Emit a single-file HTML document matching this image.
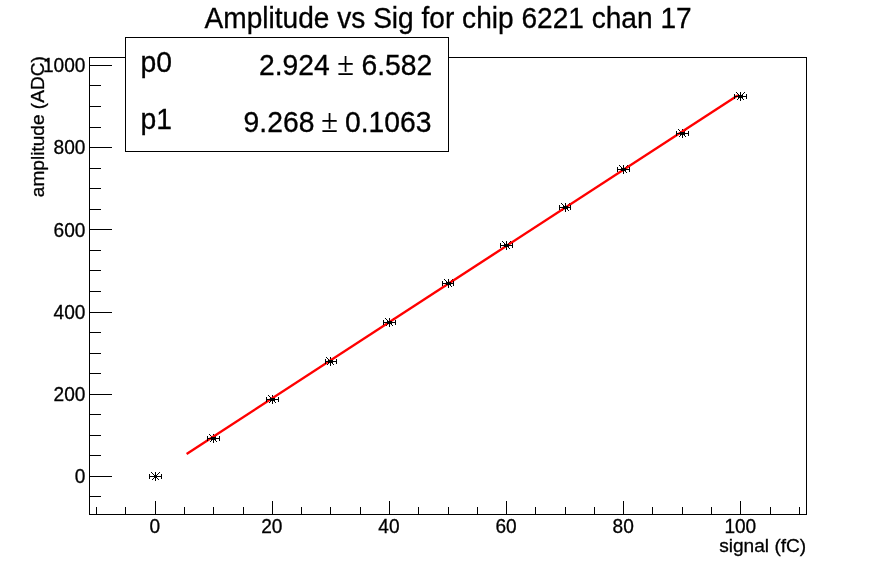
<!DOCTYPE html>
<html lang="en"><head><meta charset="utf-8"><title>Amplitude vs Sig for chip 6221 chan 17</title>
<style>html,body{margin:0;padding:0;background:#fff;overflow:hidden}svg{display:block}text{font-family:"Liberation Sans",Arial,Helvetica,sans-serif;fill:#000;stroke:#000;stroke-width:0.3}.ln{stroke:#000;stroke-width:1;fill:none;shape-rendering:crispEdges}</style></head><body>
<svg width="896" height="572" viewBox="0 0 896 572">
<rect x="0" y="0" width="896" height="572" fill="#fff"/>
<rect class="ln" x="89.5" y="57.5" width="717" height="457"/>
<path class="ln" d="M96.5 514.5v-8 M125.5 514.5v-8 M155.5 514.5v-14 M184.5 514.5v-8 M213.5 514.5v-8 M243.5 514.5v-8 M272.5 514.5v-14 M301.5 514.5v-8 M330.5 514.5v-8 M360.5 514.5v-8 M389.5 514.5v-14 M418.5 514.5v-8 M448.5 514.5v-8 M477.5 514.5v-8 M506.5 514.5v-14 M535.5 514.5v-8 M565.5 514.5v-8 M594.5 514.5v-8 M623.5 514.5v-14 M652.5 514.5v-8 M682.5 514.5v-8 M711.5 514.5v-8 M740.5 514.5v-14 M770.5 514.5v-8 M799.5 514.5v-8 M89.5 496.5h11 M89.5 476.5h22 M89.5 455.5h11 M89.5 435.5h11 M89.5 414.5h11 M89.5 394.5h22 M89.5 373.5h11 M89.5 353.5h11 M89.5 332.5h11 M89.5 312.5h22 M89.5 291.5h11 M89.5 270.5h11 M89.5 250.5h11 M89.5 229.5h22 M89.5 209.5h11 M89.5 188.5h11 M89.5 168.5h11 M89.5 147.5h22 M89.5 127.5h11 M89.5 106.5h11 M89.5 85.5h11 M89.5 65.5h22"/>
<text transform="translate(154.70 533.00) scale(1 1.035)" font-size="19.1" text-anchor="middle">0</text>
<text transform="translate(271.82 533.00) scale(1 1.035)" font-size="19.1" text-anchor="middle">20</text>
<text transform="translate(388.94 533.00) scale(1 1.035)" font-size="19.1" text-anchor="middle">40</text>
<text transform="translate(506.06 533.00) scale(1 1.035)" font-size="19.1" text-anchor="middle">60</text>
<text transform="translate(623.18 533.00) scale(1 1.035)" font-size="19.1" text-anchor="middle">80</text>
<text transform="translate(740.30 533.00) scale(1 1.035)" font-size="19.1" text-anchor="middle">100</text>
<text transform="translate(85.40 483.23) scale(1 1.035)" font-size="19.1" text-anchor="end">0</text>
<text transform="translate(85.40 401.02) scale(1 1.035)" font-size="19.1" text-anchor="end">200</text>
<text transform="translate(85.40 318.81) scale(1 1.035)" font-size="19.1" text-anchor="end">400</text>
<text transform="translate(85.40 236.60) scale(1 1.035)" font-size="19.1" text-anchor="end">600</text>
<text transform="translate(85.40 154.39) scale(1 1.035)" font-size="19.1" text-anchor="end">800</text>
<text transform="translate(85.40 72.18) scale(1 1.035)" font-size="19.1" text-anchor="end">1000</text>
<text transform="translate(806.20 551.80) scale(1 1.0)" font-size="19.1" text-anchor="end">signal (fC)</text>
<text transform="translate(43.50 56.10) rotate(-90) scale(1 1.0)" font-size="19.1" text-anchor="end">amplitude (ADC)</text>
<text transform="translate(448.10 27.70) scale(1 1.025)" font-size="28.1" text-anchor="middle">Amplitude vs Sig for chip 6221 chan 17</text>
<path class="ln" d="M151.0 476.5h9M155.5 472.0v9M151.5 472.5l8 8M151.5 480.5l8 -8M209.0 438.5h9M213.5 434.0v9M209.5 434.5l8 8M209.5 442.5l8 -8M268.0 399.5h9M272.5 395.0v9M268.5 395.5l8 8M268.5 403.5l8 -8M326.0 361.5h9M330.5 357.0v9M326.5 357.5l8 8M326.5 365.5l8 -8M385.0 322.5h9M389.5 318.0v9M385.5 318.5l8 8M385.5 326.5l8 -8M444.0 283.5h9M448.5 279.0v9M444.5 279.5l8 8M444.5 287.5l8 -8M502.0 245.5h9M506.5 241.0v9M502.5 241.5l8 8M502.5 249.5l8 -8M561.0 207.5h9M565.5 203.0v9M561.5 203.5l8 8M561.5 211.5l8 -8M619.0 169.5h9M623.5 165.0v9M619.5 165.5l8 8M619.5 173.5l8 -8M678.0 133.5h9M682.5 129.0v9M678.5 129.5l8 8M678.5 137.5l8 -8M736.0 96.5h9M740.5 92.0v9M736.5 92.5l8 8M736.5 100.5l8 -8"/>
<path d="M186.6 454.00L738 95.29" stroke="#ff0000" stroke-width="2.4" fill="none" stroke-linecap="butt"/>
<path class="ln" d="M149.0 476.5H162.0M149.5 474.0v5M161.5 474.0v5M207.0 438.5H220.0M207.5 436.0v5M219.5 436.0v5M211.0 437.5h5M211.0 439.5h5M266.0 399.5H279.0M266.5 397.0v5M278.5 397.0v5M270.0 398.5h5M270.0 400.5h5M325.0 361.5H337.0M325.5 359.0v5M336.5 359.0v5M328.0 360.5h5M328.0 362.5h5M383.0 322.5H396.0M383.5 320.0v5M395.5 320.0v5M387.0 321.5h5M387.0 323.5h5M442.0 283.5H454.0M442.5 281.0v5M453.5 281.0v5M446.0 282.5h5M446.0 284.5h5M500.0 245.5H513.0M500.5 243.0v5M512.5 243.0v5M504.0 244.5h5M504.0 246.5h5M559.0 207.5H571.0M559.5 205.0v5M570.5 205.0v5M563.0 206.5h5M563.0 208.5h5M617.0 169.5H630.0M617.5 167.0v5M629.5 167.0v5M621.0 168.5h5M621.0 170.5h5M676.0 133.5H689.0M676.5 131.0v5M688.5 131.0v5M680.0 132.5h5M680.0 134.5h5M734.0 96.5H747.0M734.5 94.0v5M746.5 94.0v5M738.0 95.5h5M738.0 97.5h5"/>
<rect class="ln" x="125.5" y="37.5" width="323" height="114" style="fill:#fff"/>
<text transform="translate(140.40 72.40) scale(1 1.035)" font-size="28.3">p0</text>
<text transform="translate(140.40 129.10) scale(1 1.035)" font-size="28.3">p1</text>
<text transform="translate(329.70 74.80) scale(1 1.035)" font-size="28.3" text-anchor="end">2.924</text>
<text transform="translate(345.60 74.80) scale(1 1.12)" font-size="30.4" text-anchor="middle" style="font-family:'Liberation Serif',serif;stroke-width:0.15">±</text>
<text transform="translate(432.20 74.80) scale(1 1.035)" font-size="28.3" text-anchor="end">6.582</text>
<text transform="translate(314.40 132.10) scale(1 1.035)" font-size="28.3" text-anchor="end">9.268</text>
<text transform="translate(329.60 132.10) scale(1 1.12)" font-size="30.4" text-anchor="middle" style="font-family:'Liberation Serif',serif;stroke-width:0.15">±</text>
<text transform="translate(431.50 132.10) scale(1 1.035)" font-size="28.3" text-anchor="end">0.1063</text>
</svg></body></html>
